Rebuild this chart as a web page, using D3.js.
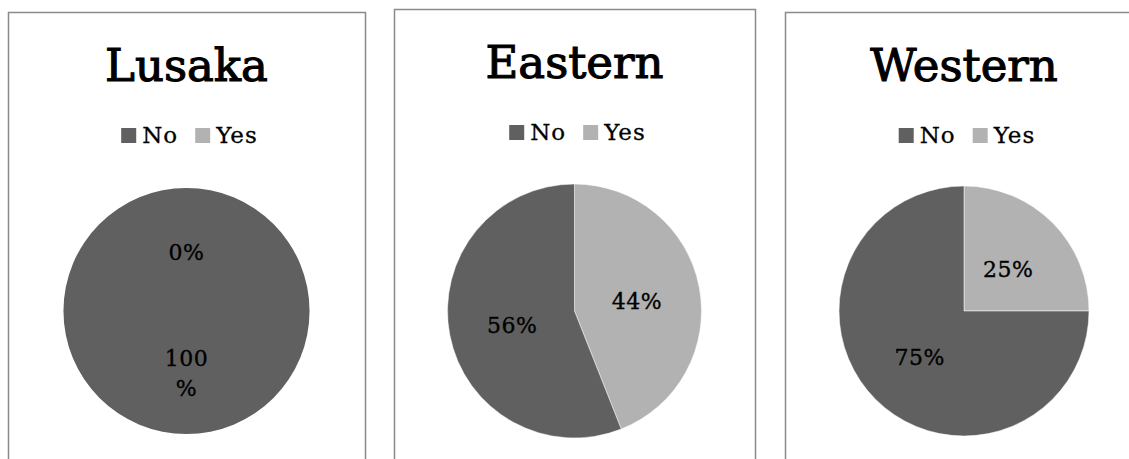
<!DOCTYPE html>
<html>
<head>
<meta charset="utf-8">
<script src="https://cdn.jsdelivr.net/npm/d3@7/dist/d3.min.js"></script>
<style>
  html, body { margin: 0; padding: 0; background: #fff; }
  svg { display: block; }
  text { font-family: "DejaVu Serif", "Liberation Serif", serif; fill: #000; }
</style>
</head>
<body>
<svg id="chart" width="1129" height="459"></svg>
<script>
// Survey answers by province, in percent
const regions = ["Lusaka", "Eastern", "Western"];
const categories = ["No", "Yes"];
const noShare = [100, 56, 75];
const yesShare = [0, 44, 25];

// Panel frames and pie sizes
const panels = [
  { x: 8,   y: 12, w: 357, r: 123 },
  { x: 394, y: 9,  w: 361, r: 127 },
  { x: 785, y: 12, w: 358, r: 125 }
];
const pieCenterY = 311;

const color = d3.scaleOrdinal()
  .domain(categories)
  .range(["#606060", "#b2b2b2"]);

const svg = d3.select("#chart");

// Slices run clockwise from 12 o'clock, "Yes" first
const pie = d3.pie()
  .sort(null)
  .value(d => d.value);

regions.forEach((name, i) => {
  const p = panels[i];
  const cx = p.x + p.w / 2;
  const g = svg.append("g");

  // frame (open at the bottom / right where it runs off the page)
  g.append("rect")
    .attr("x", p.x + 0.5)
    .attr("y", p.y + 0.5)
    .attr("width", p.w)
    .attr("height", 520)
    .attr("fill", "none")
    .attr("stroke", "#8a8a8a")
    .attr("stroke-width", 1.5);

  // title
  g.append("text")
    .attr("x", cx)
    .attr("y", p.y + 69)
    .attr("text-anchor", "middle")
    .style("font-size", "45px")
    .attr("stroke", "#000")
    .attr("stroke-width", 1.1)
    .text(name);

  // legend
  const legend = g.append("g");
  const sw = 15, gap = 6, spacing = 17;
  let lx = 0;
  categories.forEach(cat => {
    const item = legend.append("g").attr("transform", `translate(${lx},0)`);
    item.append("rect")
      .attr("x", 0).attr("y", -15)
      .attr("width", sw).attr("height", sw)
      .attr("fill", color(cat));
    const t = item.append("text")
      .attr("x", sw + gap).attr("y", 0)
      .style("font-size", "23px")
      .style("letter-spacing", "1px")
      .attr("stroke", "#000")
      .attr("stroke-width", 0.3)
      .text(cat);
    lx += sw + gap + t.node().getComputedTextLength() + spacing;
  });
  const legendWidth = lx - spacing;
  legend.attr("transform", `translate(${cx - legendWidth / 2 + 3},${p.y + 131})`);

  // pie
  const values = [
    { cat: "Yes", value: yesShare[i] },
    { cat: "No",  value: noShare[i] }
  ];
  const arcs = pie(values);
  const arc = d3.arc().innerRadius(0).outerRadius(p.r);

  const pg = g.append("g").attr("transform", `translate(${cx},${pieCenterY})`);
  pg.selectAll("path")
    .data(arcs)
    .join("path")
    .attr("d", arc)
    .attr("fill", d => color(d.data.cat))
    .attr("stroke", d => d.data.value > 0 && d.data.value < 100 ? "#ffffff" : "none")
    .attr("stroke-width", 0.5);

  // data labels, wrapped onto two lines when too wide
  const maxLabelWidth = 60;
  arcs.forEach(d => {
    const [lxp, lyp] = arc.centroid(d);
    const label = d.data.value + "%";
    const t = pg.append("text")
      .attr("text-anchor", "middle")
      .style("font-size", "22px")
      .style("letter-spacing", "0.5px")
      .attr("stroke", "#000")
      .attr("stroke-width", 0.35)
      .attr("x", lxp)
      .attr("y", lyp + 10)
      .text(label);
    if (t.node().getComputedTextLength() > maxLabelWidth) {
      t.text(null);
      const lines = [String(d.data.value), "%"];
      const lh = 30;
      lines.forEach((s, k) => {
        t.append("tspan")
          .attr("x", lxp)
          .attr("y", lyp + 8 - lh / 2 + k * lh)
          .text(s);
      });
    }
  });
});
</script>
</body>
</html>
